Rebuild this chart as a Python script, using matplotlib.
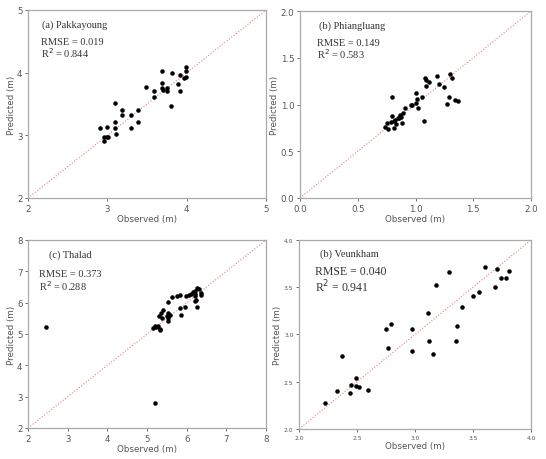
import matplotlib.pyplot as plt

# (a) Pakkayoung
obs_a = [2.91, 2.96, 2.96, 2.99, 2.99, 3.01, 3.09, 3.09, 3.09, 3.11, 3.19, 3.19,
         3.30, 3.30, 3.39, 3.39, 3.49, 3.59, 3.59, 3.69, 3.69, 3.69, 3.70, 3.75,
         3.75, 3.80, 3.81, 3.89, 3.91, 3.91, 3.96, 3.99, 3.99, 3.99]
pred_a = [3.11, 2.98, 2.91, 2.98, 3.13, 2.98, 3.51, 3.21, 3.11, 3.02, 3.41, 3.32,
          3.32, 3.11, 3.41, 3.21, 3.77, 3.71, 3.61, 4.02, 3.84, 3.75, 3.73, 3.76,
          3.71, 3.47, 3.99, 3.82, 3.96, 3.71, 3.91, 4.09, 4.02, 3.93]

# (b) Phiangluang
obs_b = [0.74, 0.75, 0.76, 0.785, 0.80, 0.80, 0.81, 0.815, 0.82, 0.83, 0.845, 0.86,
         0.865, 0.875, 0.885, 0.895, 0.91, 0.96, 0.97, 1.00, 1.005, 1.01, 1.02, 1.06,
         1.07, 1.08, 1.09, 1.09, 1.12, 1.19, 1.20, 1.25, 1.27, 1.29, 1.30, 1.32,
         1.345, 1.365]
pred_b = [0.76, 0.80, 0.74, 0.81, 1.08, 0.88, 0.82, 0.745, 0.835, 0.79, 0.86, 0.855,
          0.89, 0.87, 0.805, 0.91, 0.96, 0.995, 1.00, 1.015, 1.12, 1.06, 0.96, 1.085,
          0.82, 1.285, 1.195, 1.26, 1.245, 1.305, 1.215, 1.185, 1.01, 1.075, 1.33, 1.285,
          1.05, 1.04]

# (c) Thalad
obs_c = [2.45, 5.19, 5.15, 5.20, 5.23, 5.27, 5.32, 5.33, 5.31, 5.34, 5.38, 5.39,
         5.50, 5.52, 5.54, 5.54, 5.59, 5.53, 5.63, 5.75, 5.84, 5.95, 5.86, 5.82,
         5.98, 6.05, 6.12, 6.15, 6.22, 6.26, 6.32, 6.20, 6.23, 6.20, 6.26, 6.22,
         6.37, 6.36]
pred_c = [5.23, 2.79, 5.18, 5.24, 5.21, 5.26, 5.16, 5.13, 5.58, 5.66, 5.50, 5.78,
          5.58, 5.67, 5.50, 5.41, 5.61, 6.01, 6.17, 6.20, 6.24, 5.85, 5.62, 5.84,
          6.22, 6.24, 6.28, 6.33, 6.38, 6.46, 6.44, 6.28, 6.07, 6.06, 5.86, 6.22,
          6.24, 6.30]

# (d) Veunkham
obs_d = [2.227, 2.331, 2.371, 2.443, 2.452, 2.492, 2.495, 2.515, 2.596, 2.748,
         2.763, 2.797, 2.976, 2.976, 3.114, 3.117, 3.151, 3.180, 3.292, 3.353,
         3.361, 3.404, 3.502, 3.554, 3.606, 3.686, 3.706, 3.741, 3.787, 3.807]
pred_d = [2.279, 2.399, 2.777, 2.382, 2.463, 2.544, 2.459, 2.445, 2.413, 3.060,
          2.862, 3.113, 3.060, 2.827, 3.226, 2.926, 2.792, 3.523, 3.657, 2.936,
          3.085, 3.290, 3.403, 3.449, 3.710, 3.502, 3.696, 3.597, 3.601, 3.668]

panels = [
    (obs_a, pred_a, (2, 5), [2, 3, 4, 5], "(a) Pakkayoung", "RMSE = 0.019", "0.844"),
    (obs_b, pred_b, (0, 2), [0.0, 0.5, 1.0, 1.5, 2.0], "(b) Phiangluang", "RMSE = 0.149", "0.583"),
    (obs_c, pred_c, (2, 8), [2, 3, 4, 5, 6, 7, 8], "(c) Thalad", "RMSE = 0.373", "0.288"),
    (obs_d, pred_d, (2, 4), [2.0, 2.5, 3.0, 3.5, 4.0], "(b) Veunkham", "RMSE = 0.040", "0.941"),
]

rects = [
    [0.0513, 0.5674, 0.436, 0.4087],
    [0.5495, 0.5674, 0.423, 0.4065],
    [0.0513, 0.0674, 0.436, 0.4087],
    [0.5476, 0.0652, 0.425, 0.411],
]
# text placement (axes fraction) and sizes per panel
title_pos = [(0.058, 0.926), (0.081, 0.926), (0.09, 0.926), (0.089, 0.93)]
stat_pos = [(0.053, 0.831, 0.775), (0.075, 0.831, 0.775), (0.048, 0.824, 0.761), (0.07, 0.834, 0.757)]
stat_size = [7.5, 7.5, 7.5, 8.5]
tick_size = [6.2, 6.2, 6.2, 4.3]
fmt = ["{:g}", "{:.1f}", "{:g}", "{:.1f}"]

fig = plt.figure(figsize=(5.46, 4.6), dpi=100)
gray = "#555555"
serif = ["Liberation Serif", "DejaVu Serif"]

for i, (obs, pred, lim, ticks, title, rmse, r2) in enumerate(panels):
    ax = fig.add_axes(rects[i])
    ax.plot(lim, lim, color="#e88080", linestyle=":", linewidth=0.8, zorder=1)
    ax.scatter(obs, pred, s=5, color="black", zorder=2)
    ax.set_xlim(lim)
    ax.set_ylim(lim)
    ax.set_xticks(ticks)
    ax.set_yticks(ticks)
    ax.set_xticklabels([fmt[i].format(t) for t in ticks])
    ax.set_yticklabels([fmt[i].format(t) for t in ticks])
    ax.tick_params(labelsize=tick_size[i], colors=gray, length=2.5, width=0.6, pad=1.5)
    for sp in ax.spines.values():
        sp.set_color("#aaaaaa")
        sp.set_linewidth(0.9)
    ax.set_xlabel("Observed (m)", fontsize=6.3, color=gray, labelpad=1)
    ax.set_ylabel("Predicted (m)", fontsize=6.3, color=gray, labelpad=1)
    ax.text(title_pos[i][0], title_pos[i][1], title, transform=ax.transAxes,
            fontsize=7.5, family=serif, color="#333333", va="center")
    sx, sy1, sy2 = stat_pos[i]
    ax.text(sx, sy1, rmse, transform=ax.transAxes, fontsize=stat_size[i],
            family=serif, color="#333333", va="center")
    ax.text(sx, sy2, "R$^2$ = " + r2, transform=ax.transAxes, fontsize=stat_size[i],
            family=serif, color="#333333", va="center")

plt.savefig("out.png", dpi=100)
